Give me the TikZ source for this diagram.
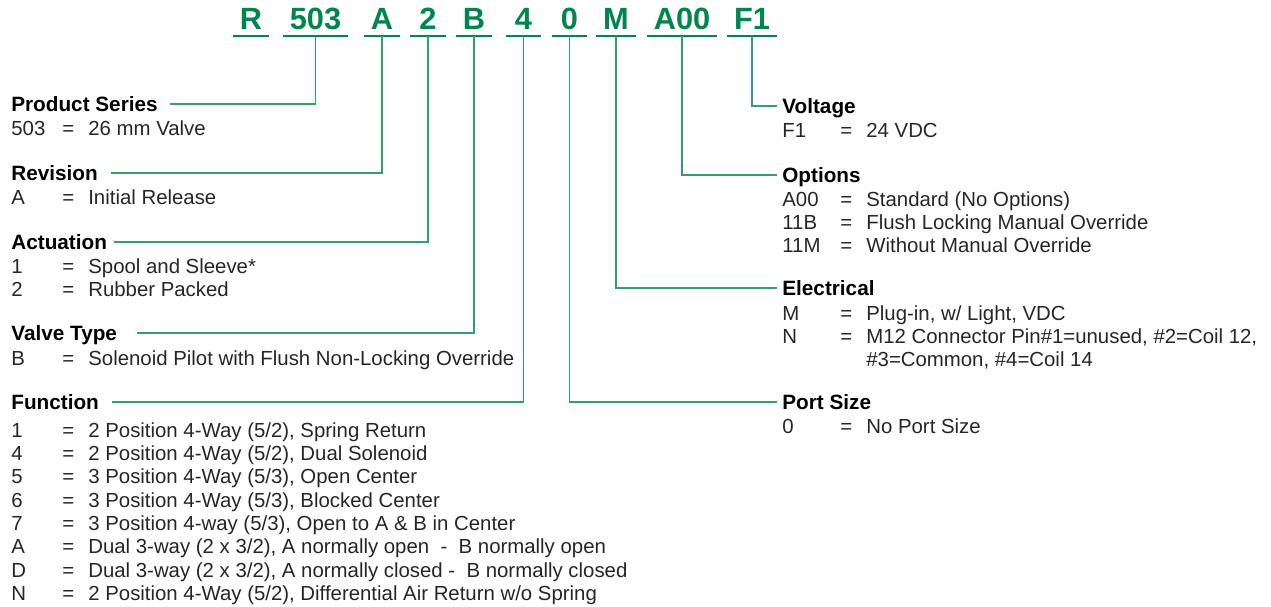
\documentclass[tikz,border=0pt]{standalone}
\usepackage{fontspec}
\setmainfont{Liberation Sans}
\usetikzlibrary{positioning}
\definecolor{codegreen}{RGB}{0,133,76}
\definecolor{linegreen}{RGB}{50,160,110}
% One entry of a key list: code, equals sign, meaning.
\newcommand{\keyrow}[3][1.02cm]{\strut\makebox[#1][l]{#2}\makebox[0.52cm][l]{=}#3}
\tikzset{
  codebox/.style={anchor=south, inner xsep=0.13cm, inner ysep=0.13cm, minimum width=0.7cm,
    text height=12.6pt, text depth=0pt, text=codegreen, font=\fontsize{17.5}{20}\selectfont\bfseries},
  head/.style={anchor=base west, inner sep=0pt, text height=9.1pt, text depth=0pt,
    font=\fontsize{11.8}{14}\selectfont\bfseries},
  keylist/.style={anchor=north west, inner sep=0pt, align=left, text=black!85,
    font=\fontsize{11.6}{13.26}\selectfont},
  uline/.style={draw=codegreen, line width=0.9pt},
  link/.style={draw=linegreen, line width=0.8pt}
}
\begin{document}
\begin{tikzpicture}[x=0.02cm, y=-0.02cm]
    \useasboundingbox (0,0) rectangle (1271,607);
    % Draw the part number, one field at a time.
    \node[codebox] (cR) at (251,36) {R};
    \node[codebox] (c503) at (315.5,36) {503};
    \node[codebox] (cA) at (382,36) {A};
    \node[codebox] (c2) at (428,36) {2};
    \node[codebox] (cB) at (474,36) {B};
    \node[codebox] (c4) at (523.5,36) {4};
    \node[codebox] (c0) at (569.5,36) {0};
    \node[codebox] (cM) at (616,36) {M};
    \node[codebox] (cA00) at (682,36) {A00};
    \node[codebox] (cF1) at (752,36) {F1};
    \foreach \c in {cR,c503,cA,c2,cB,c4,c0,cM,cA00,cF1}
      \draw[uline] (\c.south west) -- (\c.south east);
    % Left column: headings and their key lists.
    \node[head] (hseries) at (11,112) {Product Series};
    \node[keylist] (lseries) at (11,118.7) {\keyrow{503}{26 mm Valve}};
    \node[head] (hrev) at (11,181) {Revision};
    \node[keylist] (lrev) at (11,187.7) {\keyrow{A}{Initial Release}};
    \node[head] (hact) at (11,250) {Actuation};
    \node[keylist] (lact) at (11,256.7) {\keyrow{1}{Spool and Sleeve*}\\ \keyrow{2}{Rubber Packed}};
    \node[head] (htype) at (11,341) {Valve Type};
    \node[keylist] (ltype) at (11,348.7) {\keyrow{B}{Solenoid Pilot with Flush Non-Locking Override}};
    \node[head] (hfunc) at (11,410) {Function};
    \node[keylist] (lfunc) at (11,420.7) {\keyrow{1}{2 Position 4-Way (5/2), Spring Return}\\
      \keyrow{4}{2 Position 4-Way (5/2), Dual Solenoid}\\
      \keyrow{5}{3 Position 4-Way (5/3), Open Center}\\
      \keyrow{6}{3 Position 4-Way (5/3), Blocked Center}\\
      \keyrow{7}{3 Position 4-way (5/3), Open to A \& B in Center}\\
      \keyrow{A}{Dual 3-way (2 x 3/2), A normally open\ \ -\ \ B normally open}\\
      \keyrow{D}{Dual 3-way (2 x 3/2), A normally closed -\ \ B normally closed}\\
      \keyrow{N}{2 Position 4-Way (5/2), Differential Air Return w/o Spring}};
    % Right column: headings and their key lists.
    \node[head] (hvolt) at (782,114) {Voltage};
    \node[keylist] (lvolt) at (782,120.7) {\keyrow[1.16cm]{F1}{24 VDC}};
    \node[head] (hopt) at (782,183) {Options};
    \node[keylist] (lopt) at (782,189.7) {\keyrow[1.16cm]{A00}{Standard (No Options)}\\
      \keyrow[1.16cm]{11B}{Flush Locking Manual Override}\\
      \keyrow[1.16cm]{11M}{Without Manual Override}};
    \node[head] (helec) at (782,296) {Electrical};
    \node[keylist] (lelec) at (782,303.7) {\keyrow[1.16cm]{M}{Plug-in, w/ Light, VDC}\\
      \keyrow[1.16cm]{N}{M12 Connector Pin\#1=unused, \#2=Coil 12,}\\
      \strut\hspace{1.68cm}\#3=Common, \#4=Coil 14};
    \node[head] (hport) at (782,410) {Port Size};
    \node[keylist] (lport) at (782,416.7) {\keyrow[1.16cm]{0}{No Port Size}};
    % Connect each field of the part number to its heading.
    \draw[link, shorten <=0.24cm] (hseries.east) -| (c503.south);
    \draw[link, shorten <=0.26cm] (hrev.east) -| (cA.south);
    \draw[link, shorten <=0.14cm] (hact.east) -| (c2.south);
    \draw[link, shorten <=0.4cm] (htype.east) -| (cB.south);
    \draw[link, shorten <=0.26cm] (hfunc.east) -| (c4.south);
    \draw[link, shorten >=0.1cm] (c0.south) |- (hport.west);
    \draw[link, shorten >=0.1cm] (cM.south) |- (helec.west);
    \draw[link, shorten >=0.1cm] (cA00.south) |- (hopt.west);
    \draw[link, shorten >=0.1cm] (cF1.south) |- (hvolt.west);
\end{tikzpicture}
\end{document}
